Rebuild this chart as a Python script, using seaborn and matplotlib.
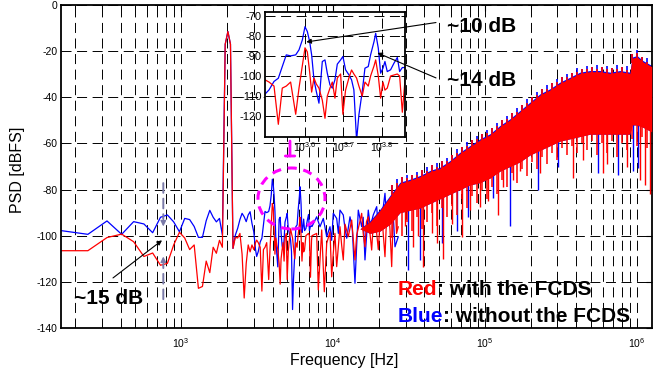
import numpy as np
import matplotlib
matplotlib.use("Agg")
import matplotlib.pyplot as plt
import seaborn as sns
from matplotlib.patches import Ellipse
from matplotlib.ticker import FixedLocator, NullLocator, LogLocator, NullFormatter

# ---------------- data ----------------
freq_low = [163, 244, 326, 407, 488, 570, 651, 733, 814, 895, 977, 1058, 1140, 1221,
            1302, 1384, 1465, 1547, 1628, 1709, 1791, 1872, 1954, 2035, 2116, 2198,
            2279, 2360, 2442, 2523, 2605, 2686, 2768, 2849, 2930, 3012, 3093]
red_low = [-106.5, -106.5, -100.8, -99.3, -102.6, -109, -107.5, -112.8, -112, -104,
           -98.5, -101, -106, -104, -122.8, -122, -111, -116, -105, -107.6,
           -102, -105, -17, -11.5, -17, -105.5, -100.7, -101, -99, -108,
           -127, -112, -104, -107, -104, -106, -103]
blue_low = [-97.8, -99.4, -93.6, -99.4, -93.9, -94.9, -98.7, -92, -91, -94,
            -98.3, -92.5, -93, -96, -100.7, -100.7, -93.5, -89, -92, -94,
            -92.5, -99.7, -17, -11.5, -17, -105.5, -99.7, -96.8, -93, -90.3,
            -91.8, -93.9, -91, -89.6, -94.6, -98.3, -106]

freq_mid1 = [3147, 3223, 3320, 3406, 3487, 3571, 3664, 3776, 3851, 3928, 3990, 4046,
             4102, 4151, 4209, 4268, 4335, 4422, 4493, 4555, 4628, 4692, 4767, 4834,
             4930, 4997, 5077, 5178, 5261, 5334, 5420, 5495, 5605, 5696, 5809, 5890,
             6011, 6071, 6166, 6252, 6339, 6414, 6503, 6633, 6768, 6903, 6999, 7111, 7225]
blue_mid1 = [-109, -106.9, -102.7, -101.1, -95.3, -89.5, -90, -89.5, -87, -82.1,
             -75.5, -77.9, -82.9, -89.5, -101.9, -107.7, -113.5, -92.8, -92, -98.6,
             -104.4, -106, -101.9, -94.1, -92, -90.3, -96.9, -99.4, -101.9, -106.9,
             -132, -119.3, -107.7, -96.1, -95.3, -89.5, -82.9, -78.8, -86.2, -98.6,
             -96.1, -92.8, -97.8, -96.9, -93.6, -90.8, -97.8, -95.8, -95.8]
red_mid1 = [-101.9, -103, -105, -124, -106, -105, -103, -119, -106, -95,
            -86, -88, -98, -108, -101, -104, -106, -112, -121, -110,
            -106, -103, -111, -101, -99, -119, -107, -101, -97, -99,
            -101, -105, -110, -103, -105, -100, -95, -92, -100, -111,
            -103, -107, -106, -100, -99.5, -99, -100, -118, -102]

red_mid2_f = [7274, 7812, 8005, 8428, 8769, 9092, 9557, 9804, 10046, 10300, 10577,
              11119, 11400, 11689, 12000, 12612, 13277, 13953, 14317, 14900, 15447,
              15800, 16236, 16600, 17068, 17970, 18400, 18890, 19390, 19865, 20400,
              20913, 21400, 21984, 22500, 23111, 23700, 24334, 24900, 25584, 26200, 26896]
red_mid2 = [-100, -99, -123.5, -97.5, -124.3, -103.3, -98.3, -117.8, -107.6, -99, -113.4,
            -96.1, -104, -110.5, -95, -100.4, -93.2, -110.5, -99.7, -95, -90.3,
            -99, -104.8, -94, -91.8, -106.2, -95, -92.5, -99, -106, -94,
            -88.9, -99, -109.1, -93, -87.4, -97, -113.4, -91, -84.5, -99, -96.1]
blue_mid2_f = [7274, 7812, 8212, 8637, 9092, 9557, 9800, 10046, 10577, 10850, 11119,
               11689, 12000, 12309, 12939, 13400, 13953, 14668, 15447, 15800, 16236,
               17068, 17600, 18411, 19390, 19865, 20913, 21984, 22500, 23111, 24334,
               25000, 25584, 26896]
blue_mid2 = [-96, -91.8, -96.1, -92.5, -100.4, -96.1, -102, -90.3, -92.5, -99, -88.9,
             -91, -97, -101.1, -91.8, -97, -120.6, -88.9, -96.1, -92, -110.5,
             -88.9, -96, -91, -87.4, -97, -93.2, -81.6, -92, -95.4, -86,
             -93, -104.8, -100.4]

# dense high-frequency noise: envelope of the band
hf_freq = [15055, 17513, 20378, 23714, 27596, 32107, 37363, 43470, 50569, 58843,
           68470, 79680, 92700, 107870, 125500, 146050, 169950, 197770, 230100, 267700,
           311500, 362400, 421700, 490700, 571000, 664400, 773000, 899200, 927000,
           1000000, 1095000, 1250000]
red_top = [-97, -94, -89, -83, -77.3, -76, -74.4, -72.2, -70.8, -67.9,
           -64.3, -61.4, -58.5, -56.3, -52.7, -49.8, -46.2, -42.6, -39, -36.8,
           -33.9, -31.8, -29.6, -28.9, -28.9, -29.6, -28.9, -29.6, -23.1, -22.4,
           -24.6, -26.7]
red_bottom = [-97, -99, -98, -95, -90, -89, -88, -86, -84, -82,
              -80, -78, -77, -75, -72, -70, -68, -65, -63, -61,
              -59, -58, -57, -56, -56, -56, -56, -56, -52, -52,
              -53, -55]
blue_top = [-97, -93.5, -88.5, -82.5, -76.8, -75.5, -73.9, -71.7, -70.3, -67.4,
            -63.8, -60.9, -58, -55.8, -52.2, -49.3, -45.7, -42.1, -38.5, -36.3,
            -33.4, -31.3, -29.1, -28.4, -28.4, -29.1, -28.4, -29.1, -22.6, -21.9,
            -24.1, -26.2]
blue_bottom = red_bottom

# ragged edges of the band
fringe_f = [24443, 26366, 28440, 30677, 33090, 35693, 38501, 41530, 44797, 48321,
            52122, 56222, 60645, 65416, 70562, 76113, 82100, 88559, 95525, 103040,
            111145, 119889, 129320, 139493, 150467, 162304, 175072, 188844, 203700, 219724,
            237009, 255654, 275766, 297459, 320859, 346100, 373326, 402694, 434373, 468543,
            505402, 545160, 588046, 634306, 684204, 738029, 796087, 858713, 926265, 999131,
            1077729, 1162510]
red_bot_lo = [-101, -97, -100, -94, -98, -92, -97, -94, -90, -96,
              -88, -92, -87, -91, -84, -88, -83, -86, -80, -84,
              -79, -82, -76, -79, -73, -77, -71, -74, -68, -71,
              -66, -69, -64, -67, -62, -65, -61, -64, -60, -63,
              -59, -65, -60, -64, -59, -66, -60, -63, -58, -61,
              -57, -62]
red_bot_hi = [-89, -87, -86, -85, -85, -84, -84, -82.6, -81.6, -80.6,
              -79.6, -78.6, -77.6, -76.6, -75.6, -74.6, -73.8, -73.3, -72.6, -71.6,
              -70.4, -68.9, -67.6, -66.6, -65.6, -64.6, -63.4, -61.9, -60.6, -59.6,
              -58.6, -57.6, -56.6, -55.6, -54.8, -54.3, -53.8, -53.3, -52.8, -52.3,
              -52, -52, -52, -52, -52, -52, -52, -52, -48, -48,
              -48.6, -49.8]
red_top_lo = [-82.3, -80.4, -79, -78.4, -77.7, -76.9, -76, -74.9, -73.9, -73.2,
              -72.2, -70.8, -69.2, -67.4, -66, -64.3, -62.8, -61.4, -60.1, -59,
              -57.6, -55.8, -54.1, -52.7, -51.1, -49.6, -47.5, -45.7, -44.2, -42.4,
              -40.6, -39.5, -38.2, -36.8, -35.5, -34.4, -33.4, -32.3, -31.5, -31.1,
              -30.9, -30.9, -31, -31.4, -31.5, -31.1, -31, -31.4, -25.1, -24.4,
              -26.3, -27.8]
red_top_hi = [-78, -77, -74.5, -75, -73.5, -73.8, -71.5, -71.8, -69.5, -70,
              -67.8, -67.6, -64.8, -64, -61.5, -61, -58.6, -58.2, -55.8, -55.5,
              -53.4, -52.5, -49.8, -49.5, -46.8, -46.2, -43.4, -42.4, -39.8, -39,
              -36.5, -36.3, -34, -33.4, -31.4, -31.3, -29.3, -29, -27.6, -27.9,
              -26.8, -27.6, -27, -27.9, -27.4, -27.6, -27, -28, -21.3, -21,
              -22.5, -24.5]
blue_top_hi = [-78, -75.5, -74.5, -73.5, -73.5, -72.3, -71.5, -70.3, -69.5, -68.5,
               -67.8, -66.1, -64.8, -62.5, -61.5, -59.5, -58.6, -56.7, -55.8, -54,
               -53.4, -51, -49.8, -48, -46.8, -44.7, -43.4, -40.9, -39.8, -37.5,
               -36.5, -34.8, -34, -31.9, -31.4, -29.8, -29.3, -27.5, -27.6, -26.4,
               -26.8, -26.1, -27, -26.4, -27.4, -26.1, -27, -26.5, -21.3, -19.5,
               -22.5, -23]

# deep downward spikes below the band
red_spike_f = [29770, 33760, 36240, 39280, 44610, 48330, 53190, 60660, 70260, 79680,
               92700, 105130, 122330, 131940, 153590, 169950, 230100, 381000, 443300,
               597400, 631900, 855400, 1046000, 1128700, 1217500]
red_spike_lo = [-96, -104.8, -100, -113.4, -99, -103, -110, -95, -100.4, -89,
                -87.4, -85, -91, -79, -76, -72, -73, -75, -67,
                -73, -69, -70, -76, -78, -82]
red_spike_hi = [-86, -85, -84, -84, -82, -81, -80, -78, -76, -74,
                -73, -71, -68, -67, -65, -64, -59, -54, -53,
                -52, -52, -52, -48, -49, -51]
blue_spike_f = [31290, 37360, 51910, 65440, 77640, 113400, 146050, 224300, 302200,
                556400, 753400, 941200, 1020000]
blue_spike_lo = [-115, -110.5, -103.3, -98, -91.8, -83.8, -96, -80, -70,
                 -73, -73.7, -72, -70.8]
blue_spike_hi = [-86, -85, -82, -78, -75, -72, -68, -60, -57,
                 -54, -54, -50, -50]

y_ticks = [-140, -120, -100, -80, -60, -40, -20, 0]
x_ticks = [1e3, 1e4, 1e5, 1e6]
x_ticklabels = [r"$10^{3}$", r"$10^{4}$", r"$10^{5}$", r"$10^{6}$"]
in_y_ticks = [-120, -110, -100, -90, -80, -70]
in_x_ticks = [10 ** 3.6, 10 ** 3.7, 10 ** 3.8]
in_x_ticklabels = [r"$10^{3.6}$", r"$10^{3.7}$", r"$10^{3.8}$"]

# ---------------- style ----------------
sns.set_theme(style="white")
plt.rcParams["font.family"] = ["Liberation Sans", "DejaVu Sans"]
plt.rcParams["axes.unicode_minus"] = False
plt.rcParams["mathtext.fontset"] = "custom"
plt.rcParams["mathtext.rm"] = "Liberation Sans"
plt.rcParams["mathtext.it"] = "Liberation Sans:italic"
plt.rcParams["mathtext.bf"] = "Liberation Sans:bold"

RED = "#ff0000"
BLUE = "#0000ff"
MAG = "#ff00ff"
GRID = dict(color="black", lw=0.7, ls=(0, (10.3, 5.7)))

W, H = 654, 372
fig = plt.figure(figsize=(W / 100, H / 100), dpi=100)
fig.patch.set_facecolor("white")
ax = fig.add_axes([61.25 / W, (H - 328) / H, 590.45 / W, 323 / H])
ax.set_xscale("log")

red_f = freq_low + freq_mid1 + red_mid2_f
red_v = red_low + red_mid1 + red_mid2
blue_f = freq_low + freq_mid1 + blue_mid2_f
blue_v = blue_low + blue_mid1 + blue_mid2


def line(axis, f, v, color, lw=0.9):
    sns.lineplot(x=f, y=v, ax=axis, color=color, lw=lw, estimator=None,
                 sort=False, legend=False, errorbar=None)


# blue (underneath)
ax.fill_between(hf_freq, blue_bottom, blue_top, color=BLUE, lw=0, zorder=2)
ax.vlines(blue_spike_f, blue_spike_lo, blue_spike_hi, color=BLUE, lw=1.0, zorder=2)
ax.vlines(fringe_f, red_top_lo, blue_top_hi, color=BLUE, lw=1.2, zorder=2)
line(ax, blue_f, blue_v, BLUE)
# red (on top)
ax.fill_between(hf_freq, red_bottom, red_top, color=RED, lw=0, zorder=3)
ax.vlines(red_spike_f, red_spike_lo, red_spike_hi, color=RED, lw=1.0, zorder=3)
ax.vlines(fringe_f, red_bot_lo, red_bot_hi, color=RED, lw=1.1, zorder=3)
ax.vlines(fringe_f, red_top_lo, red_top_hi, color=RED, lw=1.2, zorder=3)
line(ax, red_f, red_v, RED)

ax.set_xlim(163, 1.25e6)
ax.set_ylim(-140, 0)
ax.xaxis.set_major_locator(FixedLocator(x_ticks))
ax.set_xticklabels(x_ticklabels)
ax.xaxis.set_minor_locator(LogLocator(base=10, subs=np.arange(2, 10)))
ax.xaxis.set_minor_formatter(NullFormatter())
ax.set_yticks(y_ticks)
ax.set_yticklabels([str(t) for t in y_ticks])
ax.set_axisbelow(True)
ax.grid(True, which="major", axis="both", **GRID)
ax.grid(True, which="minor", axis="x", **GRID)
ax.tick_params(which="both", direction="in", top=True, right=True, colors="black",
               labelsize=7.5)
ax.tick_params(which="major", length=4, width=0.8)
ax.tick_params(which="minor", length=2.5, width=0.7)
ax.tick_params(axis="x", pad=6)
ax.tick_params(axis="y", pad=2.5)
for s in ax.spines.values():
    s.set_color("black")
    s.set_linewidth(1.3)

ax.set_xlabel("Frequency [Hz]", fontsize=11.5, color="black")
ax.set_ylabel("PSD [dBFS]", fontsize=11.5, color="black")
ax.xaxis.set_label_coords(0.479, -0.077)
ax.yaxis.set_label_coords(-0.062, 0.49)

# magenta highlight of the zoomed region
ax.add_patch(Ellipse((0.38996, 0.40093), 0.1135, 0.1889, transform=ax.transAxes,
                     fill=False, ec=MAG, lw=2.2, ls=(0, (3, 2.2)), zorder=6))
ax.annotate("", xy=(0.3874, 0.5325), xytext=(0.3874, 0.5789), xycoords="axes fraction",
            textcoords="axes fraction",
            arrowprops=dict(arrowstyle="-", color=MAG, lw=2, shrinkA=0, shrinkB=0))
ax.annotate("", xy=(0.3795, 0.5325), xytext=(0.3955, 0.5325), xycoords="axes fraction",
            textcoords="axes fraction",
            arrowprops=dict(arrowstyle="-", color=MAG, lw=2, shrinkA=0, shrinkB=0))

# gray dashed marker arrows at ~765 Hz
GRAY = "#7a7aa8"
ax.annotate("", xy=(765, -92.5), xytext=(765, -77.2),
            arrowprops=dict(arrowstyle="-", color=GRAY, lw=1.4, ls=(0, (5, 3)),
                            shrinkA=0, shrinkB=0), zorder=7)
ax.annotate("", xy=(765, -96), xytext=(765, -92),
            arrowprops=dict(arrowstyle="-|>", color=GRAY, lw=1.0, mutation_scale=8,
                            shrinkA=0, shrinkB=0), zorder=7)
ax.annotate("", xy=(765, -112.5), xytext=(765, -127.5),
            arrowprops=dict(arrowstyle="-", color=GRAY, lw=1.4, ls=(0, (5, 3)),
                            shrinkA=0, shrinkB=0), zorder=7)
ax.annotate("", xy=(765, -109), xytext=(765, -113),
            arrowprops=dict(arrowstyle="-|>", color=GRAY, lw=1.0, mutation_scale=8,
                            shrinkA=0, shrinkB=0), zorder=7)

# ~15 dB
ax.annotate("", xy=(750, -102), xytext=(357, -118.3),
            arrowprops=dict(arrowstyle="-|>", color="black", lw=0.8, mutation_scale=7,
                            shrinkA=0, shrinkB=0), zorder=8)
ax.text(197.7, -129.6, "~15 dB", fontsize=15, fontweight="bold", color="black",
        ha="left", va="baseline", zorder=8)

# legend-like texts
t1 = ax.text(26660, -125.7, "Red", fontsize=15, fontweight="bold", color=RED,
             ha="left", va="baseline", zorder=8)
ax.annotate(": with the FCDS", xy=(1, 0), xycoords=t1, fontsize=15, fontweight="bold",
            color="black", ha="left", va="bottom", zorder=8)
t2 = ax.text(26660, -137.3, "Blue", fontsize=15, fontweight="bold", color=BLUE,
             ha="left", va="baseline", zorder=8)
ax.annotate(": without the FCDS", xy=(1, 0), xycoords=t2, fontsize=15, fontweight="bold",
            color="black", ha="left", va="bottom", zorder=8)

ax.text(56230, -11.9, "~10 dB", fontsize=15, fontweight="bold", color="black",
        ha="left", va="baseline", zorder=8)
ax.text(56230, -35.3, "~14 dB", fontsize=15, fontweight="bold", color="black",
        ha="left", va="baseline", zorder=8)

# ---------------- inset ----------------
axins = fig.add_axes([265 / W, (H - 137) / H, 140 / W, 125 / H])
axins.set_xscale("log")
axins.set_facecolor("white")
line(axins, blue_f, blue_v, BLUE, lw=0.9)
line(axins, red_f, red_v, RED, lw=0.9)
axins.set_xlim(3147, 7225)
axins.set_ylim(-130.3, -68.2)
axins.xaxis.set_major_locator(FixedLocator(in_x_ticks))
axins.set_xticklabels(in_x_ticklabels)
axins.xaxis.set_minor_locator(NullLocator())
axins.set_yticks(in_y_ticks)
axins.set_yticklabels([str(t) for t in in_y_ticks])
axins.set_axisbelow(True)
axins.grid(True, which="major", axis="both", **GRID)
axins.tick_params(which="both", direction="in", top=True, right=True, colors="black",
                  length=3, width=0.7)
axins.tick_params(axis="y", labelsize=8, pad=2.5)
axins.tick_params(axis="x", labelsize=7.5, pad=2)
axins.set_xlabel("")
axins.set_ylabel("")
for s in axins.spines.values():
    s.set_color("black")
    s.set_linewidth(1.3)

axins.annotate("", xy=(4021, -83.1), xytext=(47610, -7.6), textcoords=ax.transData,
               annotation_clip=False,
               arrowprops=dict(arrowstyle="-|>", color="black", lw=0.8, mutation_scale=7,
                               shrinkA=0, shrinkB=0), zorder=9)
axins.annotate("", xy=(6131, -88.5), xytext=(47610, -31.6), textcoords=ax.transData,
               annotation_clip=False,
               arrowprops=dict(arrowstyle="-|>", color="black", lw=0.8, mutation_scale=7,
                               shrinkA=0, shrinkB=0), zorder=9)

fig.savefig("out.png", dpi=100, facecolor="white")
